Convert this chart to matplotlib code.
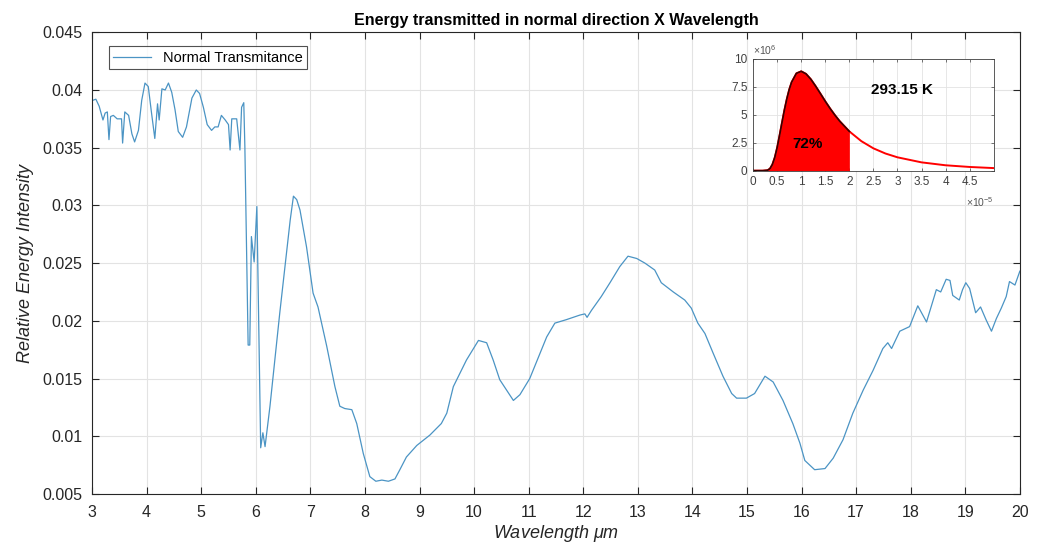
import numpy as np
import matplotlib
matplotlib.use("Agg")
import matplotlib.pyplot as plt

plt.rcParams["font.family"] = ["Liberation Sans", "DejaVu Sans"]
plt.rcParams["mathtext.fontset"] = "custom"
plt.rcParams["mathtext.it"] = "Liberation Sans:italic"
plt.rcParams["mathtext.rm"] = "Liberation Sans"

LINE_CLR = "#4b94c4"
TXT_CLR = "#262626"

# main spectrum (wavelength in um, relative intensity)
wavelength = [
    3.01, 3.07, 3.13, 3.20, 3.24, 3.28, 3.31, 3.34, 3.39, 3.46, 3.54, 3.56, 3.60,
    3.67, 3.73, 3.78, 3.85, 3.91, 3.97, 4.03, 4.09, 4.15, 4.20, 4.23, 4.28, 4.34,
    4.40, 4.46, 4.52, 4.58, 4.66, 4.73, 4.83, 4.91, 4.97, 5.04, 5.11, 5.19, 5.25,
    5.31, 5.37, 5.44, 5.50, 5.53, 5.56, 5.65, 5.71, 5.74, 5.78, 5.80, 5.83, 5.86,
    5.89, 5.92, 5.97, 6.02, 6.05, 6.09, 6.13, 6.17, 6.26, 6.44, 6.63, 6.69, 6.75,
    6.81, 6.93, 7.05, 7.14, 7.30, 7.45, 7.54, 7.63, 7.76, 7.85, 7.97, 8.09, 8.20,
    8.31, 8.43, 8.55, 8.64, 8.76, 8.95, 9.19, 9.40, 9.50, 9.62, 9.86, 10.08, 10.23,
    10.35, 10.47, 10.72, 10.84, 11.02, 11.21, 11.33, 11.48, 11.69, 11.94, 12.03,
    12.07, 12.15, 12.33, 12.49, 12.67, 12.82, 12.98, 13.13, 13.31, 13.43, 13.65,
    13.86, 13.98, 14.10, 14.23, 14.38, 14.56, 14.72, 14.81, 14.99, 15.14, 15.33,
    15.48, 15.66, 15.84, 15.97, 16.06, 16.24, 16.43, 16.58, 16.76, 16.94, 17.13,
    17.31, 17.49, 17.58, 17.65, 17.80, 17.98, 18.13, 18.29, 18.47, 18.55, 18.65,
    18.72, 18.77, 18.83, 18.89, 18.95, 19.01, 19.08, 19.19, 19.28, 19.38, 19.48,
    19.57, 19.66, 19.75, 19.81, 19.91, 20.0,
]
transmittance = [
    0.0391, 0.0392, 0.0386, 0.0374, 0.0380, 0.0381, 0.0357, 0.0377, 0.0378, 0.0375,
    0.0375, 0.0354, 0.0381, 0.0378, 0.0362, 0.0355, 0.0365, 0.0391, 0.0406, 0.0403,
    0.0380, 0.0358, 0.0388, 0.0374, 0.0401, 0.0400, 0.0406, 0.0398, 0.0383, 0.0364,
    0.0359, 0.0368, 0.0393, 0.0400, 0.0397, 0.0385, 0.0370, 0.0365, 0.0368, 0.0368,
    0.0378, 0.0374, 0.0370, 0.0348, 0.0375, 0.0375, 0.0348, 0.0385, 0.0389, 0.0351,
    0.0264, 0.0179, 0.0179, 0.0273, 0.0251, 0.0299, 0.0207, 0.0090, 0.0103, 0.0091,
    0.0126, 0.0207, 0.0287, 0.0308, 0.0305, 0.0296, 0.0264, 0.0224, 0.0212, 0.0178,
    0.0143, 0.0126, 0.0124, 0.0123, 0.0111, 0.0085, 0.0065, 0.0061, 0.0062, 0.0061,
    0.0063, 0.0071, 0.0082, 0.0092, 0.0101, 0.0111, 0.0120, 0.0143, 0.0166, 0.0183,
    0.0181, 0.0166, 0.0149, 0.0131, 0.0136, 0.0150, 0.0172, 0.0186, 0.0198, 0.0201,
    0.0205, 0.0206, 0.0203, 0.0209, 0.0221, 0.0233, 0.0247, 0.0256, 0.0254, 0.0250,
    0.0244, 0.0233, 0.0225, 0.0218, 0.0211, 0.0198, 0.0189, 0.0172, 0.0152, 0.0137,
    0.0133, 0.0133, 0.0137, 0.0152, 0.0147, 0.0131, 0.0111, 0.0094, 0.0079, 0.0071,
    0.0072, 0.0081, 0.0097, 0.0120, 0.0140, 0.0157, 0.0176, 0.0181, 0.0176, 0.0191,
    0.0195, 0.0213, 0.0199, 0.0227, 0.0225, 0.0236, 0.0235, 0.0222, 0.0220, 0.0218,
    0.0227, 0.0233, 0.0228, 0.0207, 0.0212, 0.0201, 0.0191, 0.0202, 0.0211, 0.0221,
    0.0234, 0.0231, 0.0243,
]

# inset: blackbody curve at 293.15 K (wavelength in m)
bb_lambda = [
    0.0, 0.2e-5, 0.3e-5, 0.35e-5, 0.4e-5, 0.45e-5, 0.5e-5, 0.55e-5, 0.6e-5,
    0.65e-5, 0.7e-5, 0.75e-5, 0.8e-5, 0.9e-5, 1.0e-5, 1.1e-5, 1.2e-5, 1.3e-5,
    1.4e-5, 1.5e-5, 1.6e-5, 1.7e-5, 1.8e-5, 2.0e-5, 2.25e-5, 2.5e-5, 2.75e-5,
    3.0e-5, 3.5e-5, 4.0e-5, 4.5e-5, 5.0e-5,
]
bb_radiance = [
    0.0, 0.0, 0.04e6, 0.18e6, 0.55e6, 1.18e6, 2.07e6, 3.16e6, 4.29e6, 5.40e6,
    6.39e6, 7.23e6, 7.89e6, 8.68e6, 8.86e6, 8.63e6, 8.15e6, 7.53e6, 6.86e6,
    6.18e6, 5.54e6, 4.95e6, 4.41e6, 3.50e6, 2.63e6, 1.99e6, 1.53e6, 1.19e6,
    0.74e6, 0.48e6, 0.33e6, 0.23e6,
]
fill_limit = 2.0e-5
inset_xticks = [0, 0.5e-5, 1e-5, 1.5e-5, 2e-5, 2.5e-5, 3e-5, 3.5e-5, 4e-5, 4.5e-5]
inset_xlabels = ["0", "0.5", "1", "1.5", "2", "2.5", "3", "3.5", "4", "4.5"]
inset_yticks = [0, 2.5e6, 5e6, 7.5e6, 10e6]
inset_ylabels = ["0", "2.5", "5", "7.5", "10"]

fig = plt.figure(figsize=(10.46, 5.47), dpi=100)
ax = fig.add_axes([0.088, 0.097, 0.887, 0.844])

ax.plot(wavelength, transmittance, color=LINE_CLR, lw=0.9, label="Normal Transmitance")
ax.set_xlim(3, 20)
ax.set_ylim(0.005, 0.045)
ax.set_xticks(np.arange(3, 21, 1))
ax.set_yticks([0.005, 0.01, 0.015, 0.02, 0.025, 0.03, 0.035, 0.04, 0.045])
ax.set_yticklabels(["0.005", "0.01", "0.015", "0.02", "0.025", "0.03", "0.035", "0.04", "0.045"])
ax.grid(True, color="#e3e3e3", lw=0.8)
ax.set_axisbelow(True)
ax.tick_params(direction="in", top=True, right=True, labelsize=11.5,
               colors=TXT_CLR, length=5, width=0.8)
ax.tick_params(axis="x", pad=8)
ax.tick_params(axis="y", pad=7)
for s in ax.spines.values():
    s.set_color("#262626")
    s.set_linewidth(0.8)
ax.set_title("Energy transmitted in normal direction X Wavelength",
             fontsize=11.5, fontweight="bold", pad=5)
ax.set_xlabel(r"Wavelength $\mu$m", fontsize=13, style="italic", color=TXT_CLR,
              labelpad=2)
ax.set_ylabel("Relative Energy Intensity", fontsize=13, style="italic", color=TXT_CLR,
              labelpad=6)
leg = ax.legend(loc="upper left", bbox_to_anchor=(0.01, 0.985), fontsize=10.5,
                frameon=True, fancybox=False, edgecolor="#262626",
                handlelength=2.6, borderpad=0.3)
leg.get_frame().set_linewidth(0.8)

# inset
ins = fig.add_axes([0.720, 0.688, 0.230, 0.205])
lam = np.array(bb_lambda)
rad = np.array(bb_radiance)
mask = lam <= fill_limit
ins.fill_between(lam[mask], rad[mask], color="red", lw=0)
ins.plot(lam, rad, color="red", lw=1.4)
ins.plot(lam[mask], rad[mask], color="#3a0000", lw=1.2)
ins.set_xlim(0, 5e-5)
ins.set_ylim(0, 10e6)
ins.set_xticks(inset_xticks)
ins.set_xticklabels(inset_xlabels)
ins.set_yticks(inset_yticks)
ins.set_yticklabels(inset_ylabels)
ins.grid(True, color="#e3e3e3", lw=0.6)
ins.set_axisbelow(True)
ins.tick_params(direction="in", top=True, right=True, labelsize=8.5,
                colors="#404040", length=2, width=0.5, pad=4)
for s in ins.spines.values():
    s.set_color("#404040")
    s.set_linewidth(0.6)
ins.text(0.0, 1.01, r"$\times10^{6}$", transform=ins.transAxes, fontsize=7.5,
         color="#555555", ha="left", va="bottom")
ins.text(1.0, -0.22, r"$\times10^{-5}$", transform=ins.transAxes, fontsize=7.5,
         color="#555555", ha="right", va="top")
ins.text(1.13e-5, 2.35e6, "72%", fontsize=11, fontweight="bold", ha="center", va="center")
ins.text(3.1e-5, 7.2e6, "293.15 K", fontsize=11, fontweight="bold", ha="center", va="center")

fig.savefig("out.png", dpi=100)
